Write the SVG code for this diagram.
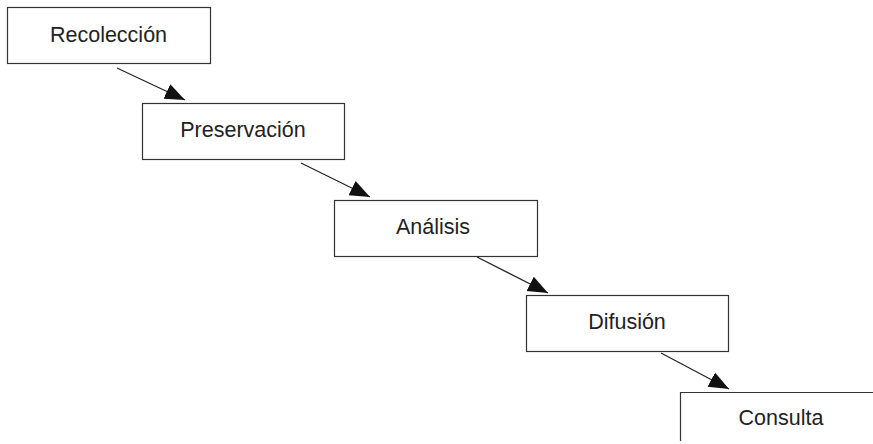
<svg xmlns="http://www.w3.org/2000/svg" width="873" height="444" viewBox="0 0 873 444">
<style>
.box{fill:#fff;stroke:#333;stroke-width:1.2}
.lbl{font-family:"Liberation Sans",Arial,sans-serif;font-size:21.5px;fill:#222;text-anchor:middle}
.con{stroke:#222;stroke-width:1.2;fill:none;marker-end:url(#ah)}
</style>
<defs>
<marker id="ah" markerUnits="userSpaceOnUse" markerWidth="22" markerHeight="18" refX="20" refY="8" orient="auto" viewBox="0 0 22 16">
<path d="M0,0 L20,8 L0,16 Z" fill="#111"/>
</marker>
</defs>
<rect width="873" height="444" fill="#fff"/>
<g id="connectors">
<line class="con" x1="117" y1="68" x2="185" y2="100"/>
<line class="con" x1="301" y1="163" x2="370" y2="197"/>
<line class="con" x1="477" y1="257" x2="548" y2="293"/>
<line class="con" x1="661" y1="353" x2="729" y2="389"/>
</g>
<g id="recoleccion">
<rect class="box" x="7.5" y="7.5" width="203" height="56"/>
<text class="lbl" x="108.5" y="42">Recolección</text>
</g>
<g id="preservacion">
<rect class="box" x="142.5" y="103.5" width="202" height="56"/>
<text class="lbl" x="243" y="137">Preservación</text>
</g>
<g id="analisis">
<rect class="box" x="334.5" y="200.5" width="203" height="56"/>
<text class="lbl" x="433" y="234">Análisis</text>
</g>
<g id="difusion">
<rect class="box" x="526.5" y="295.5" width="202" height="56"/>
<text class="lbl" x="627" y="329">Difusión</text>
</g>
<g id="consulta">
<rect class="box" x="680.5" y="392.5" width="220" height="48.5" style="stroke:none"/>
<path d="M680.5,441 V392.5 H873" fill="none" stroke="#333" stroke-width="1.2"/>
<text class="lbl" x="781" y="425">Consulta</text>
</g>
</svg>
